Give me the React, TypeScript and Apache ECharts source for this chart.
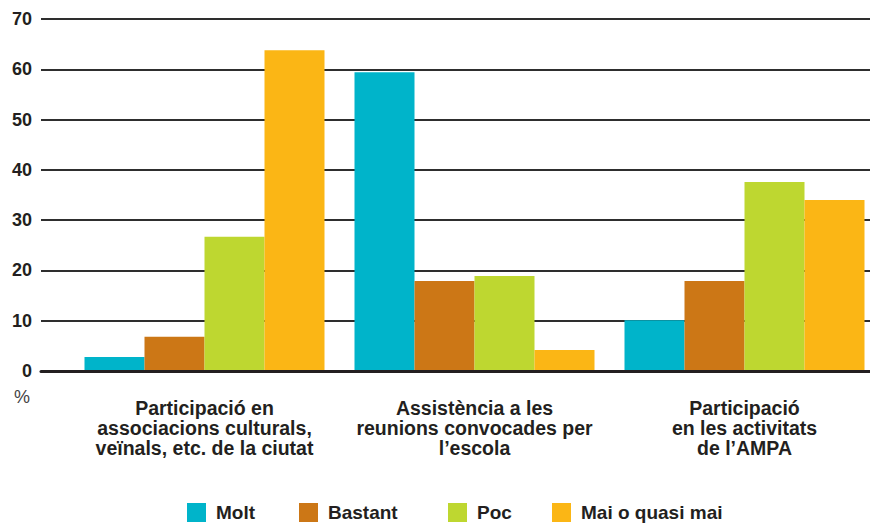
import React, { useEffect, useRef } from "react";
import * as echarts from "echarts";

const categories = [
  "Participació en\nassociacions culturals,\nveïnals, etc. de la ciutat",
  "Assistència a les\nreunions convocades per\nl’escola",
  "Participació\nen les activitats\nde l’AMPA",
];
const seriesNames = ["Molt", "Bastant", "Poc", "Mai o quasi mai"];
const molt = [2.8, 59.4, 10.1];
const bastant = [6.8, 17.9, 17.9];
const poc = [26.7, 18.9, 37.6];
const maiOQuasiMai = [63.8, 4.2, 34.0];
const yMin = 0;
const yMax = 70;
const yInterval = 10;
const unitLabel = "%";

const colors = ["#00b4ca", "#cc7716", "#bed730", "#fbb615"];
const legendLefts = [187, 299, 448, 552];
const FONT = "'Liberation Sans', Arial, Helvetica, sans-serif";
const TEXT = "#231f20";

export default function App() {
  const ref = useRef<HTMLDivElement>(null);
  useEffect(() => {
    if (!ref.current) return;
    const chart = echarts.init(ref.current, undefined, { renderer: "svg" });
    const values = [molt, bastant, poc, maiOQuasiMai];
    chart.setOption({
      animation: false,
      backgroundColor: "#ffffff",
      textStyle: { fontFamily: FONT },
      grid: [
        { left: 41, right: 10, top: 19, height: 352, containLabel: false },
        { left: 69.5, width: 810, top: 19, height: 352, containLabel: false },
      ],
      xAxis: [
        {
          gridIndex: 0,
          type: "value",
          min: 0,
          max: 1,
          z: 3,
          axisLine: { show: true, lineStyle: { color: TEXT, width: 3 } },
          axisTick: { show: false },
          axisLabel: { show: false },
          splitLine: { show: false },
        },
        {
          gridIndex: 1,
          type: "category",
          data: categories,
          axisLine: { show: false },
          axisTick: { show: false },
          splitLine: { show: false },
          axisLabel: {
            interval: 0,
            margin: 27,
            fontFamily: FONT,
            fontWeight: "bold",
            fontSize: 19.5,
            lineHeight: 20,
            color: TEXT,
            align: "center",
          },
        },
      ],
      yAxis: [
        {
          gridIndex: 0,
          type: "value",
          min: yMin,
          max: yMax,
          interval: yInterval,
          axisLine: { show: false },
          axisTick: { show: false },
          axisLabel: {
            margin: 9,
            fontFamily: FONT,
            fontWeight: "bold",
            fontSize: 18,
            color: TEXT,
          },
          splitLine: { show: true, lineStyle: { color: "#2e2e2e", width: 1.8 } },
        },
        {
          gridIndex: 1,
          type: "value",
          min: yMin,
          max: yMax,
          interval: yInterval,
          show: false,
          splitLine: { show: false },
        },
      ],
      legend: seriesNames.map((name, i) => ({
        data: [name],
        left: legendLefts[i],
        top: 503,
        padding: 0,
        itemWidth: 19,
        itemHeight: 19,
        icon: "rect",
        selectedMode: false,
        textStyle: {
          fontFamily: FONT,
          fontWeight: "bold",
          fontSize: 19,
          color: TEXT,
          padding: [9, 0, 0, 5],
        },
      })),
      graphic: [
        {
          type: "text",
          left: 14,
          top: 388,
          style: { text: unitLabel, fontFamily: FONT, fontSize: 18, fill: "#444444" },
        },
      ],
      series: seriesNames.map((name, i) => ({
        name,
        type: "bar",
        xAxisIndex: 1,
        yAxisIndex: 1,
        data: values[i],
        barWidth: 60,
        barGap: "0%",
        itemStyle: { color: colors[i] },
        emphasis: { disabled: true },
      })),
    });
    return () => chart.dispose();
  }, []);
  return (
    <div
      ref={ref}
      style={{ position: "fixed", left: 0, top: 0, width: 880, height: 523 }}
    />
  );
}
